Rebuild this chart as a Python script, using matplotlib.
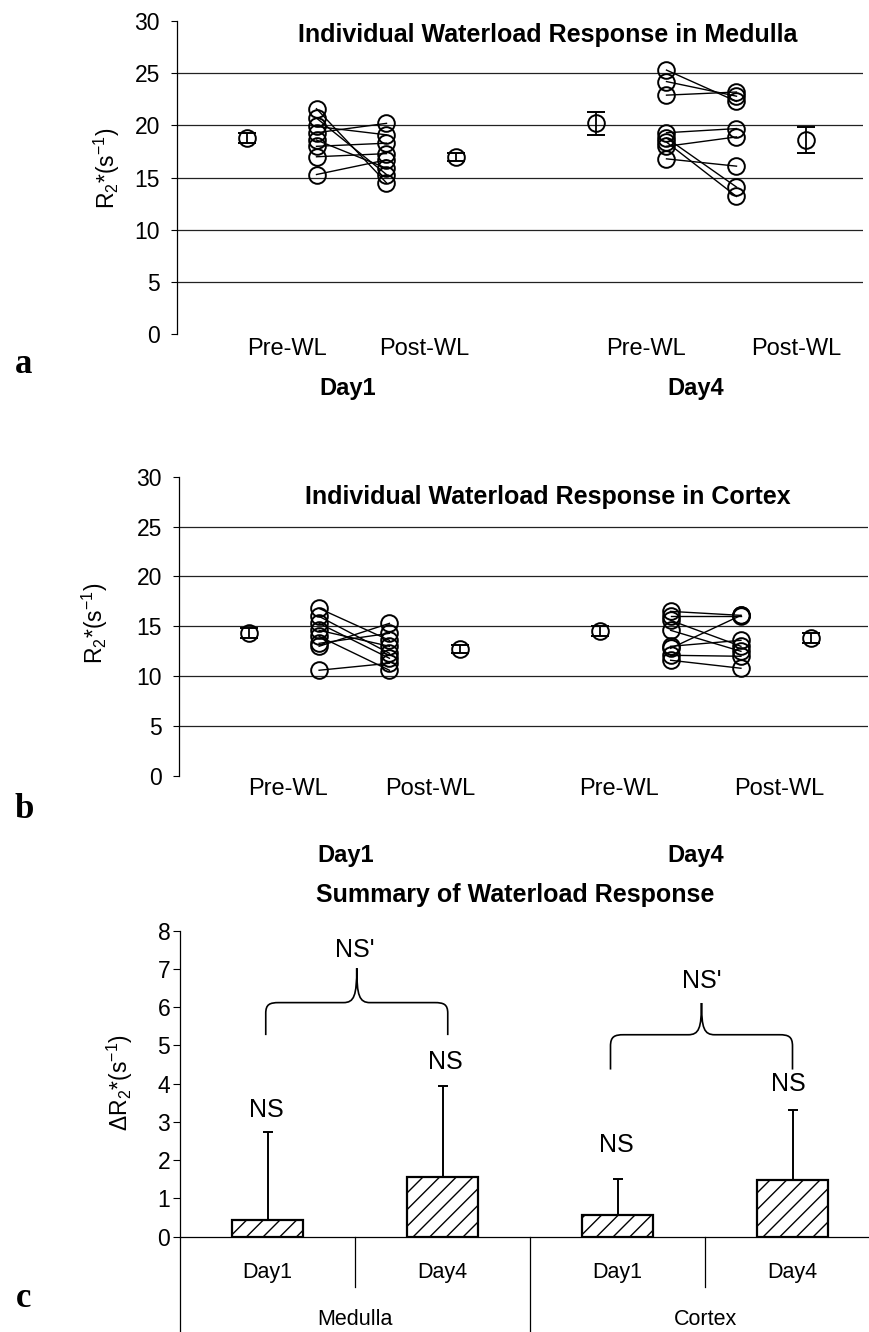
import matplotlib
matplotlib.use("Agg")
import matplotlib.pyplot as plt
import matplotlib.transforms as mtrans
from matplotlib.path import Path
from matplotlib.patches import PathPatch

plt.rcParams["font.family"] = ["Liberation Sans", "DejaVu Sans"]
plt.rcParams["mathtext.fontset"] = "custom"
plt.rcParams["mathtext.rm"] = "Liberation Sans"
plt.rcParams["mathtext.default"] = "regular"
plt.rcParams["hatch.linewidth"] = 1.0

W, H = 869, 1332

# ---- panel a: medulla, individual R2* values (8 subjects) ----
med_d1_pre = [21.6, 20.7, 19.9, 19.3, 18.6, 18.0, 17.0, 15.3]
med_d1_post = [14.5, 15.3, 19.1, 20.2, 15.9, 18.3, 17.3, 16.7]
med_d4_pre = [25.3, 24.2, 22.9, 19.3, 18.8, 18.4, 18.0, 16.8]
med_d4_post = [22.3, 22.8, 23.2, 19.7, 14.1, 13.2, 18.9, 16.1]
med_means = [18.8, 17.0, 20.2, 18.6]     # d1 pre, d1 post, d4 pre, d4 post
med_errs = [0.5, 0.4, 1.1, 1.25]

# ---- panel b: cortex ----
cor_d1_pre = [16.8, 16.0, 15.3, 14.6, 14.0, 13.3, 13.0, 10.6]
cor_d1_post = [13.6, 12.3, 11.8, 13.0, 10.6, 14.3, 15.3, 11.3]
cor_d4_pre = [16.5, 16.0, 15.6, 14.6, 13.0, 12.8, 12.1, 11.6]
cor_d4_post = [16.1, 16.0, 13.0, 12.5, 13.6, 16.1, 12.0, 10.8]
cor_means = [14.3, 12.7, 14.5, 13.8]
cor_errs = [0.5, 0.4, 0.5, 0.5]

# ---- panel c: summary ----
sum_days = ["Day1", "Day4", "Day1", "Day4"]
sum_regions = ["Medulla", "Cortex"]
sum_vals = [0.44, 1.55, 0.57, 1.47]
sum_errs = [2.30, 2.40, 0.94, 1.85]

FS = 17


def fy(py):
    return 1 - py / H


def fx(px):
    return px / W


fig = plt.figure(figsize=(W / 100, H / 100), dpi=100)


def individual_panel(rect, d1_pre, d1_post, d4_pre, d4_post, means, errs,
                     title, lab_x, lab_y, title_y, ylab_xy):
    ax = fig.add_axes(rect)
    ax.set_xlim(0, 9.8)
    ax.set_ylim(0, 30)
    ax.set_yticks(range(0, 31, 5))
    ax.set_xticks([])
    for s in ["top", "right", "bottom"]:
        ax.spines[s].set_visible(False)
    ax.spines["left"].set_linewidth(0.9)
    ax.tick_params(axis="y", direction="out", length=4.5, width=0.8,
                   labelsize=16.5, pad=7.5)
    for g in range(5, 30, 5):
        ax.axhline(g, color="#222222", lw=0.9, zorder=1)

    for pre, post, xa, xb in [(d1_pre, d1_post, 2, 3), (d4_pre, d4_post, 7, 8)]:
        for a, b in zip(pre, post):
            ax.plot([xa, xb], [a, b], color="k", lw=1.0, zorder=2)
        ax.plot([xa] * len(pre), pre, "o", ms=12, mfc="none", mec="k",
                mew=1.4, zorder=3)
        ax.plot([xb] * len(post), post, "o", ms=12, mfc="none", mec="k",
                mew=1.4, zorder=3)

    ax.errorbar([1, 4, 6, 9], means, yerr=errs, fmt="o", ms=12, mfc="none",
                mec="k", mew=1.4, ecolor="k", elinewidth=1.3, capsize=6.5,
                capthick=1.4, zorder=3)

    tr = mtrans.blended_transform_factory(ax.transData, fig.transFigure)
    names = ["Pre-WL", "Post-WL", "Pre-WL", "Post-WL"]
    for nm, xv in zip(names, lab_x[:4]):
        ax.text(xv, fy(lab_y[0]), nm, transform=tr, ha="center",
                va="baseline", fontsize=FS)
    for nm, xv in zip(["Day1", "Day4"], lab_x[4:]):
        ax.text(xv, fy(lab_y[1]), nm, transform=tr, ha="center",
                va="baseline", fontsize=FS, fontweight="bold")
    fig.text(fx(548), fy(title_y), title, ha="center", va="baseline",
             fontsize=18, fontweight="bold")
    fig.text(fx(ylab_xy[0]), fy(ylab_xy[1]), r"R$_2$*(s$^{-1}$)",
             rotation=90, ha="center", va="center", fontsize=16.5)
    return ax


ax_a = individual_panel([fx(176.5), fy(334.3), 686 / W, 313.3 / H],
                        med_d1_pre, med_d1_post, med_d4_pre, med_d4_post,
                        med_means, med_errs,
                        "Individual Waterload Response in Medulla",
                        [1.58, 3.54, 6.71, 8.85, 2.44, 7.41], [355, 395], 42,
                        (107, 168))
ax_b = individual_panel([fx(178.5), fy(776), 689 / W, 299.3 / H],
                        cor_d1_pre, cor_d1_post, cor_d4_pre, cor_d4_post,
                        cor_means, cor_errs,
                        "Individual Waterload Response in Cortex",
                        [1.56, 3.58, 6.27, 8.54, 2.38, 7.35], [795, 862], 504,
                        (95, 623))

# ---- panel c ----
ax_c = fig.add_axes([fx(180), fy(1236.7), 700 / W, 306 / H])
ax_c.set_xlim(0, 4)
ax_c.set_ylim(0, 8)
ax_c.set_yticks(range(0, 9))
ax_c.set_xticks([])
for s in ["top", "right"]:
    ax_c.spines[s].set_visible(False)
ax_c.spines["left"].set_linewidth(0.9)
ax_c.spines["bottom"].set_linewidth(0.9)
ax_c.tick_params(axis="y", direction="out", length=5, width=0.8,
                 labelsize=16.5, pad=2)

xc = [0.5, 1.5, 2.5, 3.5]
ax_c.bar(xc, sum_vals, width=0.41, color="white", edgecolor="k",
         hatch="//", lw=1.6, zorder=3)
ax_c.errorbar(xc, sum_vals, yerr=[[0] * 4, sum_errs], fmt="none", ecolor="k",
              elinewidth=1.4, capsize=3.3, capthick=1.4, zorder=2)

trc = mtrans.blended_transform_factory(ax_c.transData, fig.transFigure)
for xv in [0, 2, 4]:
    ax_c.plot([xv, xv], [fy(1236.7), 0], color="k", lw=0.9, transform=trc,
              clip_on=False)
for xv in [1, 3]:
    ax_c.plot([xv, xv], [fy(1236.7), fy(1287)], color="k", lw=0.9,
              transform=trc, clip_on=False)
for xv, nm in zip(xc, sum_days):
    ax_c.text(xv, fy(1278), nm, transform=trc, ha="center", va="baseline",
              fontsize=15.5)
for xv, nm in zip([1, 3], sum_regions):
    ax_c.text(xv, fy(1325), nm, transform=trc, ha="center", va="baseline",
              fontsize=15.5)


def brace(ax, x0, x1, yb, yh, yp):
    xm = (x0 + x1) / 2
    r = 0.073 * (x1 - x0)
    yc = yh - 0.33 * (yh - yb)
    verts = [(x0, yb), (x0, yc),
             (x0, yh - 0.05 * (yh - yb)), (x0 + 0.3 * r, yh), (x0 + r, yh),
             (xm - r, yh),
             (xm - 0.2 * r, yh), (xm, yh + 0.2 * (yp - yh)), (xm, yp),
             (xm, yh + 0.2 * (yp - yh)), (xm + 0.2 * r, yh), (xm + r, yh),
             (x1 - r, yh),
             (x1 - 0.3 * r, yh), (x1, yh - 0.05 * (yh - yb)), (x1, yc),
             (x1, yb)]
    codes = [Path.MOVETO, Path.LINETO,
             Path.CURVE4, Path.CURVE4, Path.CURVE4,
             Path.LINETO,
             Path.CURVE4, Path.CURVE4, Path.CURVE4,
             Path.CURVE4, Path.CURVE4, Path.CURVE4,
             Path.LINETO,
             Path.CURVE4, Path.CURVE4, Path.CURVE4,
             Path.LINETO]
    ax.add_patch(PathPatch(Path(verts, codes), fill=False, lw=1.2,
                           edgecolor="k", clip_on=False))


brace(ax_c, 0.49, 1.53, 5.27, 6.12, 7.02)
brace(ax_c, 2.46, 3.50, 4.37, 5.28, 6.11)
ax_c.text(1.0, 7.49, "NS'", ha="center", va="center", fontsize=18)
ax_c.text(2.98, 6.68, "NS'", ha="center", va="center", fontsize=18)
for xv, yv in [(0.495, 3.31), (1.514, 4.57), (2.495, 2.39), (3.476, 4.0)]:
    ax_c.text(xv, yv, "NS", ha="center", va="center", fontsize=18)

fig.text(fx(515), fy(902), "Summary of Waterload Response", ha="center",
         va="baseline", fontsize=18, fontweight="bold")
fig.text(fx(120), fy(1083), "ΔR$_2$*(s$^{-1}$)", rotation=90, ha="center",
         va="center", fontsize=16.5)

for lt, py in [("a", 373), ("b", 818), ("c", 1307)]:
    fig.text(fx(24), fy(py), lt, ha="center", va="baseline", fontsize=25,
             fontweight="bold", family=["Liberation Serif", "DejaVu Serif"])

fig.savefig("out.png", dpi=100)
